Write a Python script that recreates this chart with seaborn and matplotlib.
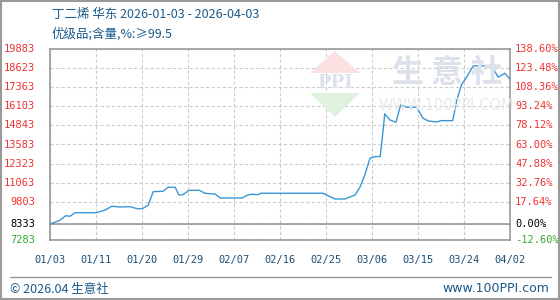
import matplotlib
matplotlib.use("Agg")
import matplotlib.pyplot as plt
import seaborn as sns
import pandas as pd
from matplotlib.patches import Polygon, Rectangle

sns.set_theme(style="white")
plt.rcParams['font.family'] = ['Noto Sans CJK SC', 'DejaVu Sans']

# ---- data ----
days = [0, 0.9, 1.9, 3.1, 3.9, 4.9, 9.1, 10.8, 12.1, 13.7, 15.6, 17.3, 18.2, 19.2,
        20.2, 22.1, 23.1, 24.5, 25.2, 26.0, 27.2, 29.2, 30.3, 32.3, 33.3, 37.6,
        38.7, 39.5, 40.7, 41.2, 53.4, 54.8, 55.8, 57.7, 59.7, 60.7, 61.6, 62.6,
        63.6, 64.6, 64.9, 65.5, 66.5, 67.7, 68.6, 69.8, 71.7, 73.0, 74.0, 75.6,
        76.6, 78.8, 79.6, 80.5, 81.5, 82.8, 85.7, 86.7, 87.7, 89.0, 90]
prices = [8333, 8450, 8583, 8887, 8847, 9085, 9085, 9263, 9507, 9461, 9481, 9329, 9375, 9573,
          10471, 10497, 10761, 10761, 10253, 10273, 10563, 10563, 10365, 10319, 10055, 10055,
          10253, 10299, 10273, 10365, 10365, 10141, 9989, 9989, 10253, 10801, 11573, 12675,
          12785, 12785, 13665, 15599, 15203, 15051, 16193, 16041, 16041, 15315, 15137, 15071,
          15157, 15157, 16523, 17513, 18021, 18767, 18767, 18591, 18021, 18285, 17887]

x_ticks = [0, 9, 18, 27, 36, 45, 54, 63, 72, 81, 90]
x_labels = ["01/03", "01/11", "01/20", "01/29", "02/07", "02/16", "02/25",
            "03/06", "03/15", "03/24", "04/02"]
y_ticks = [7283, 8333, 9803, 11063, 12323, 13583, 14843, 16103, 17363, 18623, 19883]
pct_labels = ["-12.60%", "0.00%", "17.64%", "32.76%", "47.88%", "63.00%", "78.12%",
              "93.24%", "108.36%", "123.48%", "138.60%"]
base = 8333

title1 = "丁二烯 华东 2026-01-03 - 2026-04-03"
title2 = "优级品;含量,%:≥99.5"
footer_left = "© 2026.04 生意社"
footer_right = "www.100PPI.com"

df = pd.DataFrame({"day": days, "price": prices})

W, H = 560, 300
fig = plt.figure(figsize=(W / 100, H / 100), dpi=100)
fig.patch.set_facecolor("white")

ax = fig.add_axes([50 / W, (H - 240) / H, 460 / W, 191 / H])
ax.set_xlim(0, 90)
ax.set_ylim(7283, 19883)

# watermark
wm = "#dde1ec"
fig.patches.append(Polygon([[310 / W, 1 - 73 / H], [360 / W, 1 - 73 / H], [335 / W, 1 - 51 / H]],
                           closed=True, transform=fig.transFigure, facecolor="#fbe1e1",
                           edgecolor="none", zorder=0))
fig.patches.append(Polygon([[310 / W, 1 - 93 / H], [360 / W, 1 - 93 / H], [335 / W, 1 - 117 / H]],
                           closed=True, transform=fig.transFigure, facecolor="#def2de",
                           edgecolor="none", zorder=0))
fig.text(335 / W, 1 - 83 / H, "PPI", ha="center", va="center", fontsize=13,
         color=wm, fontweight="bold", family="DejaVu Serif", zorder=0)
fig.text(447 / W, 1 - 73 / H, "生 意 社", ha="center", va="center", fontsize=23,
         color=wm, fontweight="bold", zorder=0)
fig.text(446 / W, 1 - 105 / H, "WWW.100PPI.COM", ha="center", va="center", fontsize=10.5,
         color="#e9e9e9", family="DejaVu Sans", zorder=0)
ax.patch.set_alpha(0)

ax.set_xticks(x_ticks)
ax.set_yticks(y_ticks)
ax.grid(True, color="#cccccc", linestyle=(0, (3, 2)), linewidth=0.8)
ax.axhline(base, color="#999999", linewidth=1.2, zorder=2)

sns.lineplot(data=df, x="day", y="price", ax=ax, color="#3a96d6",
             linewidth=1.0, zorder=3)

for s in ax.spines.values():
    s.set_color("#999999")
    s.set_linewidth(1.2)

mono = "DejaVu Sans Mono"
ax.set_xlabel("")
ax.set_ylabel("")
ax.tick_params(axis="both", length=0)
ax.set_xticklabels(x_labels, fontsize=7.5, color="#1b4f78", family=mono)
ax.tick_params(axis="x", pad=11)
ax.set_yticklabels([])

# left / right value labels
for v, p in zip(y_ticks, pct_labels):
    if v == base:
        c = "black"
    elif v < base:
        c = "#33aa33"
    else:
        c = "#ee3333"
    ax.text(-15 / 460, v, f"{v}", transform=ax.get_yaxis_transform(), ha="right",
            va="center", fontsize=7.5, color=c, family=mono)
    ax.text(1 + 5 / 460, v, p, transform=ax.get_yaxis_transform(), ha="left",
            va="center", fontsize=7.5, color=c, family=mono)

# titles
fig.text(52 / W, 1 - 14 / H, title1, ha="left", va="center", fontsize=9, color="#1b5a8a")
fig.text(52 / W, 1 - 34 / H, title2, ha="left", va="center", fontsize=9, color="#1b5a8a")

# footer
fig.add_artist(plt.Line2D([10 / W, 551 / W], [1 - 277 / H, 1 - 277 / H],
                          transform=fig.transFigure, color="#999999", linewidth=1))
fig.text(10 / W, 1 - 289 / H, footer_left, ha="left", va="center", fontsize=9, color="#1b5a8a")
fig.text(549 / W, 1 - 289 / H, footer_right, ha="right", va="center", fontsize=9,
         color="#1b5a8a", family="DejaVu Sans")

# outer border
fig.patches.append(Rectangle((0.001, 0.002), 0.997, 0.995, transform=fig.transFigure,
                             fill=False, edgecolor="#999999", linewidth=1.5))

fig.savefig("out.png", dpi=100)
